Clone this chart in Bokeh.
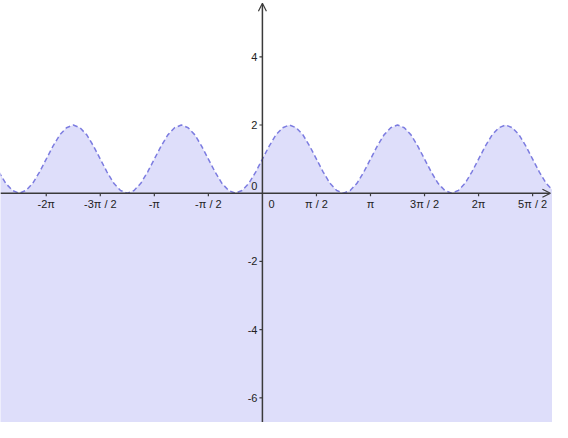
import numpy as np
from bokeh.plotting import figure
from bokeh.models import Range1d, Arrow, OpenHead
from bokeh.core.properties import value
from bokeh.embed import file_html
from bokeh.resources import INLINE

# one period (length pi) of the curve, read at steps of pi/16 from x = 0
period_vals = [1.0, 1.38, 1.71, 1.92, 2.0, 1.92, 1.71, 1.38,
               1.0, 0.62, 0.29, 0.08, 0.0, 0.08, 0.29, 0.62]
step_index = np.arange(-48, 49)          # -3pi .. 3pi
curve_x = step_index * np.pi / 16
curve_y = np.append(np.tile(period_vals, 6), period_vals[0])

x_tick_mult = [-2, -1.5, -1, -0.5, 0.5, 1, 1.5, 2, 2.5]
x_tick_labels = ["-2π", "-3π / 2", "-π", "-π / 2", "π / 2", "π", "3π / 2", "2π", "5π / 2"]
y_ticks = [-6, -4, -2, 2, 4]
y_tick_labels = ["-6", "-4", "-2", "2", "4"]

x_lo, x_hi = -7.613, 8.432
y_lo, y_hi = -6.723, 5.650

p = figure(width=552, height=422, output_backend="svg", toolbar_location=None,
           x_range=Range1d(x_lo, x_hi), y_range=Range1d(y_lo, y_hi),
           min_border=0)
p.axis.visible = False
p.grid.visible = False
p.outline_line_color = None
p.background_fill_color = "white"

# shaded region under the curve
p.varea(x=curve_x, y1=y_lo - 5, y2=curve_y, fill_color="#dedefa")

axis_col = "#3a3a3a"
font = value("Liberation Sans")

# axes with open arrow heads
p.add_layout(Arrow(end=OpenHead(size=8, line_width=1.2, line_color=axis_col),
                   x_start=x_lo, y_start=0, x_end=x_hi - 0.06, y_end=0,
                   line_color=axis_col, line_width=1.5))
p.add_layout(Arrow(end=OpenHead(size=8, line_width=1.2, line_color=axis_col),
                   x_start=0, y_start=y_lo, x_end=0, y_end=y_hi - 0.08,
                   line_color=axis_col, line_width=1.5))

# tick marks
xt = [m * np.pi for m in x_tick_mult]
p.ray(x=xt, y=[0] * len(xt), length=3, length_units="screen",
      angle=-np.pi / 2, line_color=axis_col, line_width=1.2)
p.ray(x=[0] * len(y_ticks), y=y_ticks, length=3, length_units="screen",
      angle=np.pi, line_color=axis_col, line_width=1.2)

# tick labels
p.text(x=xt, y=[0] * len(xt), text=x_tick_labels, text_font=font,
       text_font_size="11px", text_color="#222222", text_align="center",
       text_baseline="middle", y_offset=11)
p.text(x=[0] * len(y_ticks), y=y_ticks, text=y_tick_labels, text_font=font,
       text_font_size="11px", text_color="#222222", text_align="right",
       text_baseline="middle", x_offset=-5)
p.text(x=[0], y=[0], text=["0"], text_font=font, text_font_size="11px",
       text_color="#222222", text_align="right", text_baseline="middle",
       x_offset=-5, y_offset=-7)
p.text(x=[0], y=[0], text=["0"], text_font=font, text_font_size="11px",
       text_color="#222222", text_align="left", text_baseline="middle",
       x_offset=6, y_offset=11)

# dashed curve
p.line(curve_x, curve_y, line_color="#7c7ce0", line_width=1.5, line_dash="5 3")

open("out.html", "w").write(file_html(p, INLINE))
